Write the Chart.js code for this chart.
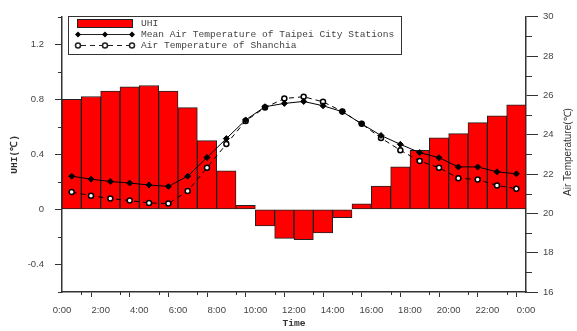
<!DOCTYPE html>
<html>
<head>
<meta charset="utf-8">
<script src="https://cdn.jsdelivr.net/npm/chart.js@4/dist/chart.umd.min.js"></script>
<style>
html, body { margin: 0; padding: 0; background: #fff; }
</style>
</head>
<body>
<canvas id="chart" width="577" height="331"></canvas>
<script>
// hourly data (x = middle of each hour)
const hourMid = [0.5, 1.5, 2.5, 3.5, 4.5, 5.5, 6.5, 7.5, 8.5, 9.5, 10.5, 11.5,
                 12.5, 13.5, 14.5, 15.5, 16.5, 17.5, 18.5, 19.5, 20.5, 21.5, 22.5, 23.5];
const uhi = [0.80, 0.82, 0.86, 0.89, 0.90, 0.86, 0.74, 0.50, 0.28, 0.03, -0.12, -0.21,
             -0.22, -0.17, -0.06, 0.04, 0.17, 0.31, 0.43, 0.52, 0.55, 0.63, 0.68, 0.76];
const taipeiTemp = [21.89, 21.74, 21.62, 21.54, 21.44, 21.37, 21.89, 22.84, 23.80, 24.75, 25.42, 25.59,
                    25.69, 25.47, 25.17, 24.55, 23.96, 23.51, 23.09, 22.83, 22.36, 22.36, 22.11, 22.01];
const shanchiaTemp = [21.08, 20.90, 20.75, 20.65, 20.53, 20.50, 21.13, 22.32, 23.52, 24.70, 25.38, 25.84,
                      25.93, 25.67, 25.18, 24.55, 23.83, 23.21, 22.66, 22.32, 21.79, 21.72, 21.42, 21.25];
const timeLabels = ['0:00', '2:00', '4:00', '6:00', '8:00', '10:00', '12:00',
                    '14:00', '16:00', '18:00', '20:00', '22:00', '0:00'];

const seriesNames = ['UHI', 'Mean Air Temperature of Taipei City Stations', 'Air Temperature of Shanchia'];

const axisColor = '#333';
const tickFont = { family: '"Liberation Sans", Arial, sans-serif', size: 9.5 };
const monoFont = '"Liberation Mono", "Courier New", monospace';

function toPoints(ys) {
    return ys.map((v, i) => ({ x: hourMid[i], y: v }));
}

// minor ticks, right axis title and the boxed legend
const extrasPlugin = {
    id: 'extras',
    afterDraw(chart) {
        const ctx = chart.ctx;
        const { x, y, y2 } = chart.scales;
        ctx.save();
        ctx.strokeStyle = axisColor;
        ctx.lineWidth = 1;

        // minor ticks
        ctx.beginPath();
        x.ticks.forEach(t => {
            if (t.value % 2 !== 0) {
                const px = Math.round(x.getPixelForValue(t.value)) + 0.5;
                ctx.moveTo(px, x.top);
                ctx.lineTo(px, x.top + 3);
            }
        });
        y.ticks.forEach(t => {
            if (Math.round(t.value * 10) % 4 !== 0) {
                const py = Math.round(y.getPixelForValue(t.value)) + 0.5;
                ctx.moveTo(y.right, py);
                ctx.lineTo(y.right - 4, py);
            }
        });
        y2.ticks.forEach(t => {
            if (Math.round(t.value) % 2 !== 0) {
                const py = Math.round(y2.getPixelForValue(t.value)) + 0.5;
                ctx.moveTo(y2.left, py);
                ctx.lineTo(y2.left + 6, py);
            }
        });
        ctx.stroke();

        // right axis title, reading bottom to top
        ctx.save();
        ctx.translate(568, 152);
        ctx.rotate(-Math.PI / 2);
        ctx.fillStyle = '#333';
        ctx.font = '10px "Liberation Sans", Arial, sans-serif';
        ctx.textAlign = 'center';
        ctx.textBaseline = 'middle';
        ctx.fillText('Air Temperature(℃)', 0, 0);
        ctx.restore();

        // legend box
        ctx.fillStyle = '#fff';
        ctx.fillRect(68, 16, 334, 39);
        ctx.strokeStyle = '#333';
        ctx.lineWidth = 1;
        ctx.strokeRect(68.5, 16.5, 333, 38);

        ctx.fillStyle = '#ff0000';
        ctx.fillRect(77, 19.5, 56, 8.5);
        ctx.strokeStyle = '#222';
        ctx.strokeRect(77.5, 19.5, 55, 8);

        const mx = [78, 105, 132];
        // Taipei line
        ctx.beginPath();
        ctx.moveTo(78, 34.5); ctx.lineTo(132, 34.5);
        ctx.stroke();
        ctx.fillStyle = '#000';
        mx.forEach(px => {
            ctx.beginPath();
            ctx.moveTo(px, 31.5); ctx.lineTo(px + 3, 34.5); ctx.lineTo(px, 37.5); ctx.lineTo(px - 3, 34.5);
            ctx.closePath();
            ctx.fill();
        });
        // Shanchia line
        ctx.setLineDash([5, 4]);
        ctx.beginPath();
        ctx.moveTo(81, 45.5); ctx.lineTo(129, 45.5);
        ctx.stroke();
        ctx.setLineDash([]);
        ctx.lineWidth = 1.5;
        mx.forEach(px => {
            ctx.beginPath();
            ctx.arc(px, 45.5, 2.5, 0, Math.PI * 2);
            ctx.fillStyle = '#fff';
            ctx.fill();
            ctx.stroke();
        });

        ctx.fillStyle = '#444';
        ctx.font = '9.6px ' + monoFont;
        ctx.textAlign = 'left';
        ctx.textBaseline = 'middle';
        ctx.fillText(seriesNames[0], 141, 23.5);
        ctx.fillText(seriesNames[1], 141, 34.5);
        ctx.fillText(seriesNames[2], 141, 45.5);
        ctx.restore();
    }
};

const ctx = document.getElementById('chart').getContext('2d');
new Chart(ctx, {
    type: 'bar',
    data: {
        datasets: [{
            type: 'bar',
            label: seriesNames[0],
            data: toPoints(uhi),
            yAxisID: 'y',
            backgroundColor: '#ff0000',
            borderColor: '#222',
            borderWidth: 1,
            borderSkipped: false,
            barPercentage: 1,
            categoryPercentage: 1,
            order: 3
        }, {
            type: 'line',
            label: seriesNames[1],
            data: toPoints(taipeiTemp),
            yAxisID: 'y2',
            borderColor: '#000',
            borderWidth: 1,
            backgroundColor: '#000',
            pointStyle: 'rectRot',
            pointRadius: 3,
            pointBorderWidth: 1,
            tension: 0,
            order: 1
        }, {
            type: 'line',
            label: seriesNames[2],
            data: toPoints(shanchiaTemp),
            yAxisID: 'y2',
            borderColor: '#000',
            borderWidth: 1,
            borderDash: [5, 4],
            pointBackgroundColor: '#fff',
            pointBorderColor: '#000',
            pointBorderWidth: 1.5,
            pointStyle: 'circle',
            pointRadius: 2.5,
            tension: 0,
            order: 2
        }]
    },
    options: {
        responsive: false,
        animation: false,
        layout: { padding: { top: 13, left: 0, right: 0, bottom: 0 } },
        plugins: {
            legend: { display: false },
            tooltip: { enabled: false }
        },
        scales: {
            x: {
                type: 'linear',
                min: 0,
                max: 24,
                offset: false,
                afterFit: s => { s.height = 39; },
                border: { display: true, color: axisColor, width: 1.5 },
                grid: {
                    display: true,
                    drawOnChartArea: false,
                    tickLength: 5,
                    tickColor: c => (c.tick && c.tick.value % 2 === 0) ? axisColor : 'rgba(0,0,0,0)'
                },
                ticks: {
                    stepSize: 1,
                    autoSkip: false,
                    maxRotation: 0,
                    padding: 8,
                    color: '#444',
                    font: tickFont,
                    callback: v => (v % 2 === 0) ? timeLabels[v / 2] : ''
                },
                title: {
                    display: true,
                    text: 'Time',
                    color: '#333',
                    font: { family: monoFont, size: 9.6, weight: 'bold' },
                    padding: { top: 0, bottom: 2 }
                }
            },
            y: {
                position: 'left',
                min: -0.6,
                max: 1.4,
                afterFit: s => { s.width = 62; },
                border: { display: true, color: axisColor, width: 1.5 },
                grid: {
                    display: true,
                    drawOnChartArea: false,
                    tickLength: 7,
                    tickColor: c => (c.tick && Math.round(c.tick.value * 10) % 4 === 0) ? axisColor : 'rgba(0,0,0,0)'
                },
                ticks: {
                    stepSize: 0.2,
                    autoSkip: false,
                    padding: 11,
                    color: '#444',
                    font: tickFont,
                    callback: v => (Math.round(v * 10) % 4 === 0) ? String(Math.round(v * 10) / 10) : ''
                },
                title: {
                    display: true,
                    text: 'UHI(℃)',
                    color: '#333',
                    font: { family: monoFont, size: 9.6, weight: 'bold' },
                    padding: { top: 9, bottom: 0 }
                }
            },
            y2: {
                position: 'right',
                min: 16,
                max: 30,
                afterFit: s => { s.width = 51; },
                border: { display: true, color: axisColor, width: 1.5 },
                grid: {
                    display: true,
                    drawOnChartArea: false,
                    tickLength: 12,
                    tickColor: c => (c.tick && Math.round(c.tick.value) % 2 === 0) ? axisColor : 'rgba(0,0,0,0)'
                },
                ticks: {
                    stepSize: 1,
                    autoSkip: false,
                    padding: 5,
                    color: '#444',
                    font: tickFont,
                    callback: v => (Math.round(v) % 2 === 0) ? String(v) : ''
                }
            }
        }
    },
    plugins: [extrasPlugin]
});
</script>
</body>
</html>
